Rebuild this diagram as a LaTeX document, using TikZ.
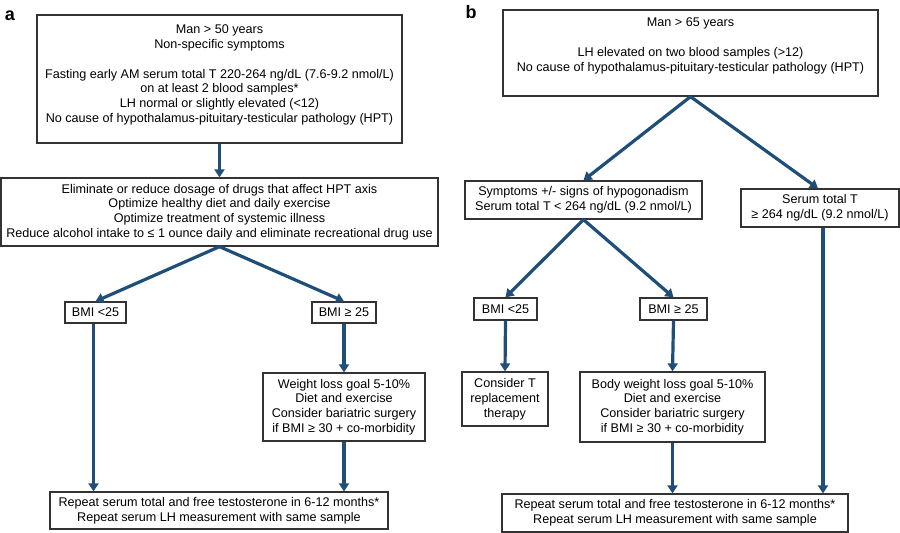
\documentclass[tikz,border=0pt]{standalone}
\usepackage{fontspec}
\setmainfont{Liberation Sans}
\usetikzlibrary{arrows.meta, positioning}
\definecolor{flowblue}{HTML}{1F4E79}
\definecolor{boxgray}{HTML}{333333}

\begin{document}
\begin{tikzpicture}[x=1pt, y=-1pt,
	box/.style={draw=boxgray, line width=1.3pt, align=center, inner sep=0pt,
		font=\fontsize{12.6}{14.8}\selectfont},
	flow/.style={draw=flowblue, line width=3.2pt, -{Triangle[width=10pt, length=8pt]}},
	panel/.style={font=\fontsize{18}{18}\selectfont\bfseries}]
\useasboundingbox (0,0) rectangle (900,533);

% panel a
\node[panel] (la) at (10,16) {a};
\node[box, minimum width=365pt, minimum height=128pt] (A1) at (219.5,79)
	{Man > 50 years\\Non-specific symptoms\\[15pt]Fasting early AM serum total T 220-264 ng/dL (7.6-9.2 nmol/L)\\on at least 2 blood samples*\\LH normal or slightly elevated (<12)\\No cause of hypothalamus-pituitary-testicular pathology (HPT)\\[-4pt]\mbox{}};
\node[box, minimum width=437pt, minimum height=68pt] (A2) at (219.5,212)
	{Eliminate or reduce dosage of drugs that affect HPT axis\\Optimize healthy diet and daily exercise\\Optimize treatment of systemic illness\\Reduce alcohol intake to ≤ 1 ounce daily and eliminate recreational drug use};
\node[box, minimum width=61pt, minimum height=21pt] (A3) at (95.5,312.5) {BMI <25};
\node[box, minimum width=64pt, minimum height=21pt] (A4) at (344,312.5) {BMI ≥ 25};
\node[box, minimum width=162pt, minimum height=68pt] (A5) at (344,407)
	{Weight loss goal 5-10\%\\Diet and exercise\\Consider bariatric surgery\\if BMI ≥ 30 + co-morbidity};
\node[box, minimum width=338pt, minimum height=37pt] (A6) at (219,510.5)
	{Repeat serum total and free testosterone in 6-12 months*\\Repeat serum LH measurement with same sample};

\draw[flow] (A1.south) -- (A2.north);
\draw[flow] (A2.south) -- (A3.north);
\draw[flow] (A2.south) -- (A4.north);
\draw[flow] ([xshift=-2pt]A3.south) -- ([xshift=-2pt]A3.south |- A6.north);
\draw[flow] (A4.south) -- (A5.north);
\draw[flow] (A5.south) -- (A5.south |- A6.north);

% panel b
\node[panel] (lb) at (471,12) {b};
\node[box, minimum width=375pt, minimum height=86pt] (B1) at (690.5,53)
	{Man > 65 years\\[15pt]LH elevated on two blood samples (>12)\\No cause of hypothalamus-pituitary-testicular pathology (HPT)\\[2pt]\mbox{}};
\node[box, minimum width=237pt, minimum height=38pt] (B2) at (583.5,200)
	{Symptoms +/- signs of hypogonadism\\Serum total T < 264 ng/dL (9.2 nmol/L)};
\node[box, minimum width=158pt, minimum height=38pt] (B3) at (820,208)
	{Serum total T\\≥ 264 ng/dL (9.2 nmol/L)};
\node[box, minimum width=63pt, minimum height=22pt] (B4) at (505.5,309) {BMI <25};
\node[box, minimum width=67pt, minimum height=22pt] (B5) at (673.5,309) {BMI ≥ 25};
\node[box, minimum width=86pt, minimum height=54pt] (B6) at (505,399)
	{Consider T\\replacement\\therapy};
\node[box, minimum width=185pt, minimum height=70pt] (B7) at (672.5,407)
	{Body weight loss goal 5-10\%\\Diet and exercise\\Consider bariatric surgery\\if BMI ≥ 30 + co-morbidity};
\node[box, minimum width=346pt, minimum height=38pt] (B8) at (675,513)
	{Repeat serum total and free testosterone in 6-12 months*\\Repeat serum LH measurement with same sample};

\draw[flow] (B1.south) -- (B2.north);
\draw[flow] (B1.south) -- ([xshift=-2pt]B3.north);
\draw[flow] (B2.south) -- (B4.north);
\draw[flow] (B2.south) -- (B5.north);
\draw[flow] (B4.south) -- (B6.north);
\draw[flow] (B5.south) -- (B7.north);
\draw[flow] (B7.south) -- (B7.south |- B8.north);
\draw[flow] ([xshift=3pt]B3.south) -- ([xshift=3pt]B3.south |- B8.north);
\end{tikzpicture}
\end{document}
